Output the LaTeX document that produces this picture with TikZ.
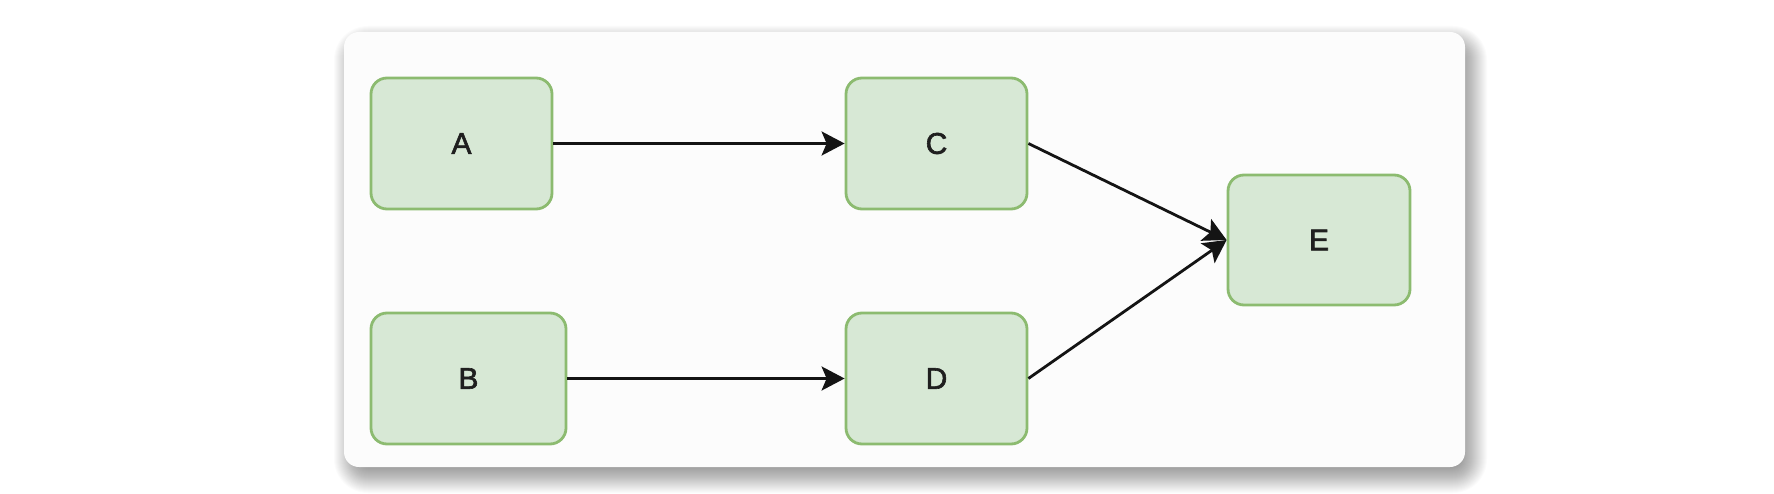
\documentclass[tikz,border=0pt]{standalone}
\usepackage{fontspec}
\setmainfont{Liberation Sans}
\newfontfamily\lblfont{Liberation Sans}[FakeBold=2]
\usetikzlibrary{arrows.meta}
\definecolor{boxfill}{HTML}{D7E8D5}
\definecolor{boxline}{HTML}{8CBB70}
\definecolor{panelfill}{HTML}{FCFCFC}
\tikzset{
  stepbox/.style={draw=boxline, fill=boxfill, line width=2.8pt, rounded corners=16pt,
    minimum height=131pt, inner sep=0pt, font=\lblfont\fontsize{30}{34}\selectfont, text=black!88},
  conn/.style={draw=black!92, line width=2.8pt, -{Stealth[length=23pt,width=24pt,inset=5pt]}}
}
\begin{document}
\begin{tikzpicture}[x=1pt,y=-1pt]
\useasboundingbox (0,0) rectangle (1774,494);
\fill[white] (0,0) rectangle (1774,494);
% soft shadow
\foreach \i in {-12,...,16}{
  \fill[black, opacity=0.015, rounded corners={18pt+\i pt}] (344-\i+6,32-\i+10) rectangle (1465+\i+6,467+\i+10);
}
\fill[panelfill, rounded corners=15pt] (344,32) rectangle (1465,467);
\node[stepbox, minimum width=181pt] (A) at (461.5,143.5) {A};
\node[stepbox, minimum width=195pt] (B) at (468.5,378.5) {B};
\node[stepbox, minimum width=181pt] (C) at (936.5,143.5) {C};
\node[stepbox, minimum width=181pt] (D) at (936.5,378.5) {D};
\node[stepbox, minimum width=182pt, minimum height=130pt] (E) at (1319,240) {E};
\draw[conn] (A.east) -- (C.west);
\draw[conn] (B.east) -- (D.west);
\draw[conn] (C.east) -- (E.west);
\draw[conn] (D.east) -- (E.west);
\end{tikzpicture}
\end{document}
